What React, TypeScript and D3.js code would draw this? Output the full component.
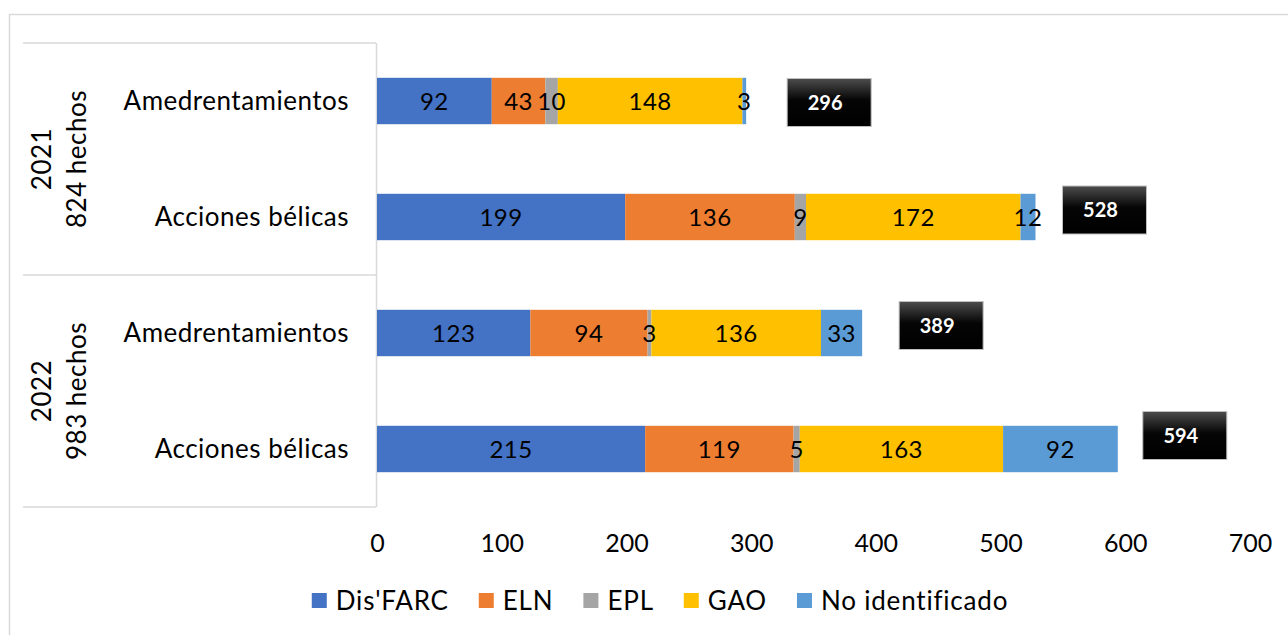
import React, { useEffect, useRef } from "react";
import * as d3 from "d3";

const rowLabels = ["Amedrentamientos", "Acciones bélicas", "Amedrentamientos", "Acciones bélicas"];
const groupYears = ["2021", "2022"];
const groupTotals = ["824 hechos", "983 hechos"];
const seriesNames = ["Dis'FARC", "ELN", "EPL", "GAO", "No identificado"];
const disFarc = [92, 199, 123, 215];
const eln = [43, 136, 94, 119];
const epl = [10, 9, 3, 5];
const gao = [148, 172, 136, 163];
const noIdent = [3, 12, 33, 92];
const totals = [296, 528, 389, 594];
const xTicks = [0, 100, 200, 300, 400, 500, 600, 700];

const colors = ["#4472C4", "#ED7D31", "#A5A5A5", "#FFC000", "#5B9BD5"];
// manual placement nudges of the total callouts (px from bar end / bar centre)
const calloutDx = [41, 27, 37, 25];
const calloutDy = [1.5, -7, -7.5, -13.5];

const W = 1288;
const H = 635;
const FONT = "Lato, 'Open Sans', sans-serif";

export default function App() {
  const ref = useRef<SVGSVGElement>(null);
  useEffect(() => {
    const svg = d3.select(ref.current);
    svg.selectAll("*").remove();
    const series = [disFarc, eln, epl, gao, noIdent];
    const rows = rowLabels.map((_, i) => i);

    const x = d3.scaleLinear().domain([0, 700]).range([377, 1250]);
    const y = d3.scaleBand<number>().domain(rows).range([43, 507]).paddingInner(0.6).paddingOuter(0.3);

    const defs = svg.append("defs");
    const grad = defs.append("linearGradient").attr("id", "callout").attr("x1", 0).attr("x2", 0).attr("y1", 0).attr("y2", 1);
    grad.append("stop").attr("offset", "0%").attr("stop-color", "#4d4d4d");
    grad.append("stop").attr("offset", "45%").attr("stop-color", "#050505");
    grad.append("stop").attr("offset", "100%").attr("stop-color", "#000");

    // outer chart border
    svg.append("path").attr("d", `M9.5,${H} V14.5 H${W}`).attr("fill", "none").attr("stroke", "#d9d9d9").attr("stroke-width", 1.5);

    // category box lines
    const g0 = svg.append("g").attr("stroke", "#d9d9d9").attr("stroke-width", 1.5);
    [43, 275, 507].forEach((yy) => {
      g0.append("line").attr("x1", 23).attr("x2", 376).attr("y1", yy).attr("y2", yy);
    });
    g0.append("line").attr("x1", 376.5).attr("x2", 376.5).attr("y1", 43).attr("y2", 507);

    // stacked bars
    const stackData = rows.map((r) => {
      const o: any = { r };
      seriesNames.forEach((s, si) => (o[s] = series[si][r]));
      return o;
    });
    const stacked = d3.stack<any>().keys(seriesNames)(stackData);
    const gb = svg.append("g");
    stacked.forEach((layer, si) => {
      layer.forEach((d) => {
        const r = d.data.r;
        gb.append("rect")
          .attr("x", x(d[0]))
          .attr("y", y(r)!)
          .attr("width", x(d[1]) - x(d[0]))
          .attr("height", y.bandwidth())
          .attr("fill", colors[si]);
      });
    });
    stacked.forEach((layer) => {
      layer.forEach((d) => {
        const r = d.data.r;
        gb.append("text")
          .attr("x", (x(d[0]) + x(d[1])) / 2)
          .attr("y", y(r)! + y.bandwidth() / 2)
          .attr("dy", "0.36em")
          .attr("text-anchor", "middle")
          .attr("font-family", FONT)
          .attr("font-size", 24)
          .attr("letter-spacing", 0.5)
          .attr("fill", "#000")
          .text(String(d[1] - d[0]));
      });
    });

    // totals callouts
    rows.forEach((r) => {
      const bx = x(totals[r]) + calloutDx[r];
      const cy = y(r)! + y.bandwidth() / 2 + calloutDy[r];
      const bw = 84, bh = 48;
      svg.append("rect").attr("x", bx).attr("y", cy - bh / 2).attr("width", bw).attr("height", bh)
        .attr("fill", "url(#callout)").attr("stroke", "#bfbfbf").attr("stroke-width", 1);
      svg.append("text").attr("x", bx + bw / 2 - 4).attr("y", cy).attr("dy", "0.36em")
        .attr("text-anchor", "middle").attr("font-family", FONT).attr("font-weight", 700)
        .attr("font-size", 20).attr("fill", "#fff").text(String(totals[r]));
    });

    // row labels
    rows.forEach((r) => {
      svg.append("text").attr("x", 349).attr("y", y(r)! + y.bandwidth() / 2).attr("dy", "0.36em")
        .attr("text-anchor", "end").attr("font-family", FONT).attr("font-size", 26).attr("letter-spacing", 0.5)
        .attr("fill", "#000").text(rowLabels[r]);
    });

    // group labels (rotated)
    groupYears.forEach((yr, gi) => {
      const cy = 43 + 232 * gi + 116;
      const t = svg.append("text").attr("transform", `translate(42,${cy}) rotate(-90)`)
        .attr("text-anchor", "middle").attr("font-family", FONT).attr("font-size", 26)
        .attr("letter-spacing", 0.5).attr("fill", "#000");
      t.append("tspan").attr("x", 0).attr("dy", "0.36em").text(yr);
      t.append("tspan").attr("x", 0).attr("dy", "1.35em").text(groupTotals[gi]);
    });

    // x axis tick labels
    const axis = d3.axisBottom(x).tickValues(xTicks).tickSize(0).tickPadding(0);
    const ga = svg.append("g").attr("transform", "translate(0,543)").call(axis as any);
    ga.select(".domain").remove();
    ga.selectAll("text").attr("font-family", FONT).attr("font-size", 25).attr("fill", "#000").attr("dy", "0.36em").attr("y", 0);

    // legend
    const gl = svg.append("g");
    let cx = 0;
    seriesNames.forEach((s, i) => {
      const it = gl.append("g");
      it.append("rect").attr("x", 0).attr("y", -8).attr("width", 15).attr("height", 15).attr("fill", colors[i]);
      const tt = it.append("text").attr("x", 24).attr("y", 0).attr("dy", "0.36em").attr("font-family", FONT)
        .attr("font-size", 26).attr("letter-spacing", 0.8).attr("fill", "#000").text(s);
      const tw = (tt.node() as SVGTextElement).getComputedTextLength();
      it.attr("transform", `translate(${cx},601)`);
      cx += 24 + tw + 30;
    });
    const total = cx - 30;
    gl.attr("transform", `translate(${660 - total / 2},0)`);
  }, []);
  return (
    <svg ref={ref} width={W} height={H} style={{ position: "absolute", left: 0, top: 0, background: "#fff" }} />
  );
}
